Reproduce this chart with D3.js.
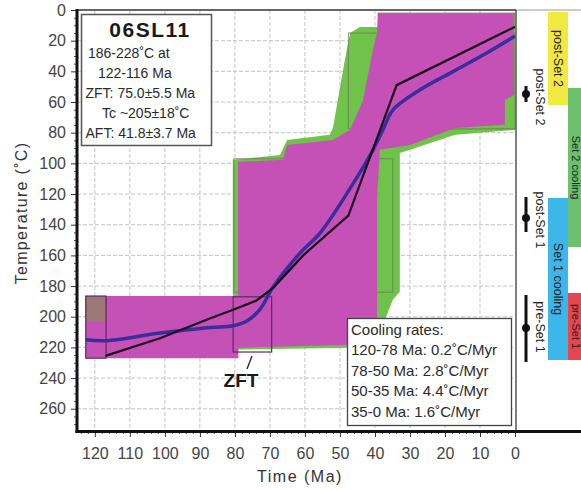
<!DOCTYPE html>
<html><head><meta charset="utf-8">
<script src="https://cdn.jsdelivr.net/npm/d3@7"></script>
<style>
body{margin:0;background:#fff}
text{font-family:"Liberation Sans",Arial,sans-serif}
</style></head>
<body><svg id="c" width="581" height="490"></svg>
<script>
// ---- data ----
const timeTicks = [120,110,100,90,80,70,60,50,40,30,20,10,0];
const tempTicks = [0,20,40,60,80,100,120,140,160,180,200,220,240,260];
// acceptable-fit envelope (time Ma, temperature °C)
const acceptableEnvelope = [[80.6,221.5],[80.6,97.7],[67.1,94.5],[65.1,84.7],[52.9,81.4],[52,76.9],[48.6,32.6],[47.1,15],[44.3,11.1],[39.1,11.1],[39.1,2],[0,2],[0,78.2],[17.1,81.4],[30,91.2],[32.9,93.2],[32.9,183.7],[34.9,188.9],[39.4,215],[47.1,220.2]];
// good-fit envelope
const goodEnvelope = [[79.1,220.2],[79.1,99],[66.3,97.7],[65.1,88],[52,84.7],[48.6,80.1],[47.1,78.2],[43.4,58.6],[40.6,26],[39.4,15],[39.1,2.6],[0.3,2.6],[0.3,55.4],[2.9,58.6],[2.9,74.9],[17.1,76.9],[30,88],[38.6,91.2],[39.4,123.8],[39.4,211.7],[47.1,218.2]];
const goodBand = [[122.6,186.5],[79,186.5],[79,227],[122.6,227]];
const olivePatch = [[122.6,186.5],[116.8,186.5],[116.8,203],[122.6,203]];
const constraintBoxes = [[122.6,116.8,186.5,227],[80.5,69.5,187,223]];
const outlineBoxes = [[80.3,34.9,97,184],[47.6,0,15,77.5],[39.1,0,2,12]];
const bestFit = [[117,225.5],[101.4,214],[87,201],[80.5,195.5],[73.8,189.4],[69,181],[60.5,160],[47.6,134],[33.8,49],[0,11]];
const meanPath = [[122.6,215],[116.7,215.6],[101.4,210.6],[87.1,207],[80.5,205.9],[76.7,203],[72.9,195.4],[69,180.3],[61.4,158.5],[55.7,145.5],[46.2,113],[40.5,91],[37.5,77],[34.8,65],[27.1,52],[17.6,40],[8.1,28],[0,17]];
const sampleLines = ["186-228˚C at","122-116 Ma","ZFT: 75.0±5.5 Ma","Tc ~205±18˚C","AFT: 41.8±3.7 Ma"];
const rateLines = ["Cooling rates:","120-78 Ma: 0.2˚C/Myr","78-50 Ma: 2.8˚C/Myr","50-35 Ma: 4.4˚C/Myr","35-0 Ma: 1.6˚C/Myr"];
const eventBars = [
  {label:"post-Set 2", y0:12, y1:105, col:0, color:"#f2e940"},
  {label:"Set 2 cooling", y0:88, y1:247, col:1, color:"#6cc06e"},
  {label:"Set 1 cooling", y0:198, y1:360, col:0, color:"#3db6ea"},
  {label:"pre-Set 1", y0:293, y1:360, col:1, color:"#e5464f"}
];
const eventMarkers = [
  {label:"post-Set 2", y0:86, y1:102, yc:94, ty:97},
  {label:"post-Set 1", y0:197, y1:232, yc:218, ty:220},
  {label:"pre-Set 1", y0:295, y1:362, yc:328, ty:327}
];

// ---- chart ----
const svg = d3.select("#c");
const x = d3.scaleLinear().domain([125.1,0]).range([77,515]);
const y = d3.scaleLinear().domain([0,274.5]).range([10,431]);
const line = d3.line().x(d=>x(d[0])).y(d=>y(d[1]));

svg.append("rect").attr("width",581).attr("height",490).attr("fill","#fff");

// grid
const g = svg.append("g");
g.selectAll(".vg").data(timeTicks.filter(d=>d>0)).join("line")
  .attr("x1",d=>x(d)).attr("x2",d=>x(d)).attr("y1",y(0)).attr("y2",y(274.5))
  .attr("stroke","#c4c4c4").attr("stroke-width",1).attr("stroke-dasharray","4,2");
g.selectAll(".hg").data(tempTicks.filter(d=>d>0)).join("line")
  .attr("y1",d=>y(d)).attr("y2",d=>y(d)).attr("x1",x(125.1)).attr("x2",x(0))
  .attr("stroke","#c4c4c4").attr("stroke-width",1).attr("stroke-dasharray","4,2");

// acceptable envelope
svg.append("path").attr("d",line(acceptableEnvelope)+"Z").attr("fill","#6fc24a");
// outline boxes (thin path outlines)
svg.selectAll(".ob").data(outlineBoxes).join("rect")
  .attr("x",d=>x(d[0])).attr("width",d=>x(d[1])-x(d[0]))
  .attr("y",d=>y(d[2])).attr("height",d=>y(d[3])-y(d[2]))
  .attr("fill","none").attr("stroke","#6e7a58").attr("stroke-width",1).attr("opacity",0.8);
// good envelope
svg.append("path").attr("d",line(goodEnvelope)+"Z").attr("fill","#c651b6");
svg.append("path").attr("d",line(goodBand)+"Z").attr("fill","#c651b6");
svg.append("path").attr("d",line(olivePatch)+"Z").attr("fill","#8e8560").attr("opacity",0.75);
// constraint boxes
svg.selectAll(".cb").data(constraintBoxes).join("rect")
  .attr("x",d=>x(d[0])).attr("width",d=>x(d[1])-x(d[0]))
  .attr("y",d=>y(d[2])).attr("height",d=>y(d[3])-y(d[2]))
  .attr("fill","none").attr("stroke","#5a2a62").attr("stroke-width",1.2);

// paths
svg.append("path").attr("d",d3.line().x(d=>x(d[0])).y(d=>y(d[1])).curve(d3.curveCatmullRom)(meanPath))
  .attr("fill","none").attr("stroke","#3a2d9c").attr("stroke-width",3.5);
svg.append("path").attr("d",line(bestFit))
  .attr("fill","none").attr("stroke","#1c0b18").attr("stroke-width",2.2);

// ZFT label
svg.append("line").attr("x1",252).attr("y1",356).attr("x2",247).attr("y2",369).attr("stroke","#222").attr("stroke-width",1.3);
svg.append("text").attr("x",241).attr("y",387).attr("text-anchor","middle")
  .attr("font-size",19).attr("font-weight","bold").attr("fill","#1a1a1a").text("ZFT");

// axes
const axY = svg.append("g").attr("transform",`translate(${x(125.1)},0)`)
  .call(d3.axisLeft(y).tickValues(tempTicks).tickSize(6).tickPadding(5));
axY.select(".domain").remove();
axY.selectAll("text").attr("font-size",16).attr("fill","#444").attr("font-family","Liberation Sans, Arial, sans-serif");
axY.selectAll("line").attr("stroke","#333");
const axYm = svg.append("g").attr("transform",`translate(${x(125.1)},0)`)
  .call(d3.axisLeft(y).tickValues(d3.range(5,275,5).filter(d=>d%20)).tickSize(3).tickFormat(""));
axYm.select(".domain").remove(); axYm.selectAll("line").attr("stroke","#555");

const axX = svg.append("g").attr("transform",`translate(0,${y(274.5)})`)
  .call(d3.axisBottom(x).tickValues(timeTicks).tickSize(6).tickPadding(11));
axX.select(".domain").remove();
axX.selectAll("text").attr("font-size",16).attr("fill","#444").attr("font-family","Liberation Sans, Arial, sans-serif");
axX.selectAll("line").attr("stroke","#333");
const axXm = svg.append("g").attr("transform",`translate(0,${y(274.5)})`)
  .call(d3.axisBottom(x).tickValues(d3.range(2,125,2).filter(d=>d%10)).tickSize(3).tickFormat(""));
axXm.select(".domain").remove(); axXm.selectAll("line").attr("stroke","#555");

// frame
svg.append("line").attr("x1",77).attr("x2",516).attr("y1",10).attr("y2",10).attr("stroke","#666").attr("stroke-width",2);
svg.append("line").attr("x1",516).attr("x2",581).attr("y1",10).attr("y2",10).attr("stroke","#bbb").attr("stroke-width",1.5);
svg.append("line").attr("x1",516).attr("x2",516).attr("y1",10).attr("y2",432).attr("stroke","#555").attr("stroke-width",1.5);
svg.append("line").attr("x1",77).attr("x2",77).attr("y1",9).attr("y2",433).attr("stroke","#111").attr("stroke-width",3);
svg.append("line").attr("x1",75.5).attr("x2",581).attr("y1",431.5).attr("y2",431.5).attr("stroke","#111").attr("stroke-width",3);

// axis titles
svg.append("text").attr("transform","translate(27,213) rotate(-90)").attr("text-anchor","middle")
  .attr("font-size",16).attr("letter-spacing",1.3).attr("fill","#333").text("Temperature (˚C)");
svg.append("text").attr("x",300).attr("y",482).attr("text-anchor","middle")
  .attr("font-size",16).attr("letter-spacing",1.5).attr("fill","#333").text("Time (Ma)");

// sample box
svg.append("rect").attr("x",81.5).attr("y",14.5).attr("width",130).attr("height",131)
  .attr("fill","#fff").attr("stroke","#555").attr("stroke-width",1.5);
svg.append("text").attr("x",150).attr("y",37).attr("text-anchor","middle")
  .attr("font-size",21).attr("font-weight","bold").attr("letter-spacing",1.5).attr("fill","#1a1a1a").text("06SL11");
const sx = [88,98,85.5,102,85.5];
svg.selectAll(".sl").data(sampleLines).join("text")
  .attr("x",(d,i)=>sx[i]).attr("y",(d,i)=>58+i*20)
  .attr("font-size",14).attr("fill","#2a2a2a").text(d=>d);

// cooling rates box
svg.append("rect").attr("x",347.5).attr("y",318.5).attr("width",164).attr("height",107)
  .attr("fill","#fff").attr("stroke","#444").attr("stroke-width",1.3);
svg.selectAll(".rl").data(rateLines).join("text")
  .attr("x",351).attr("y",(d,i)=>335+i*20.4)
  .attr("font-size",15).attr("fill","#2a2a2a").text(d=>d);

// right panel bars
const colX = [548,568], colW = [20,24], colC = [558,575.5], colF = [12.5,11];
svg.selectAll(".eb").data(eventBars).join("rect")
  .attr("x",d=>colX[d.col]).attr("width",d=>colW[d.col])
  .attr("y",d=>d.y0).attr("height",d=>d.y1-d.y0).attr("fill",d=>d.color);
svg.selectAll(".et").data(eventBars).join("text")
  .attr("transform",d=>`translate(${colC[d.col]},${(d.y0+d.y1)/2}) rotate(90)`)
  .attr("text-anchor","middle").attr("dy","0.35em").attr("font-size",d=>colF[d.col]).attr("fill","#222").text(d=>d.label);
// markers
svg.selectAll(".ml").data(eventMarkers).join("line")
  .attr("x1",526).attr("x2",526).attr("y1",d=>d.y0).attr("y2",d=>d.y1)
  .attr("stroke","#111").attr("stroke-width",3);
svg.selectAll(".mc").data(eventMarkers).join("circle")
  .attr("cx",526).attr("cy",d=>d.yc).attr("r",4).attr("fill","#111");
svg.selectAll(".mt").data(eventMarkers).join("text")
  .attr("transform",d=>`translate(540,${d.ty}) rotate(90)`)
  .attr("text-anchor","middle").attr("dy","0.35em").attr("font-size",12.5).attr("fill","#222").text(d=>d.label);
</script></body></html>
